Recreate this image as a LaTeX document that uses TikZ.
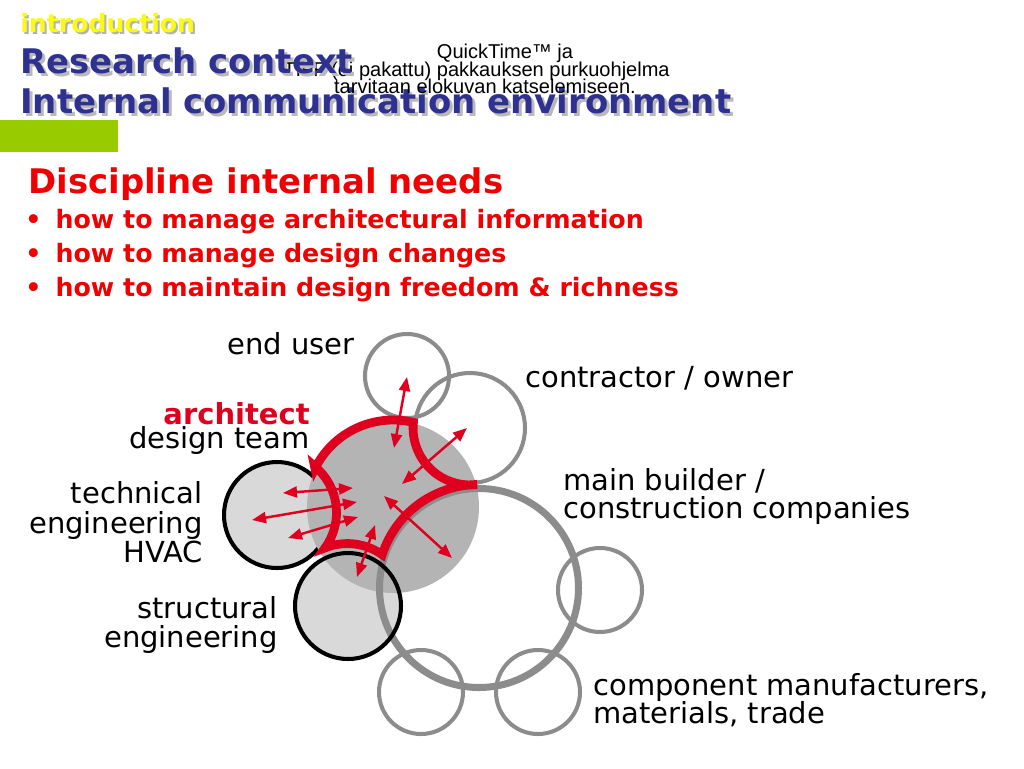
\documentclass[tikz,border=0pt]{standalone}
\usepackage{fontspec}
\setmainfont{DejaVu Sans}
\newfontfamily\qtfont{Liberation Sans}
\usetikzlibrary{arrows.meta}
\definecolor{titleblue}{RGB}{46,49,146}
\definecolor{introyellow}{RGB}{250,250,20}
\definecolor{bargreen}{RGB}{153,204,0}
\definecolor{needred}{RGB}{240,0,0}
\definecolor{archred}{RGB}{222,0,30}
\definecolor{ringgray}{RGB}{140,140,140}
\definecolor{archgray}{RGB}{180,180,180}
\definecolor{discgray}{RGB}{217,217,217}

\begin{document}
\begin{tikzpicture}[
        x=0.02cm, y=0.02cm,
        lbl/.style={font=\fontsize{16.5}{18}\selectfont, inner sep=0pt},
        head/.style={font=\bfseries\fontsize{19.3}{20}\selectfont, inner sep=0pt, anchor=base west},
        intro/.style={font=\bfseries\fontsize{14.3}{15}\selectfont, inner sep=0pt, anchor=base west},
        need/.style={font=\bfseries\fontsize{14.4}{15}\selectfont, inner sep=0pt, anchor=base west, text=needred},
        qt/.style={font=\qtfont\fontsize{11.4}{12}\selectfont, inner sep=0pt},
        ring/.style={draw=ringgray, line width=2.3pt},
        bigring/.style={draw=ringgray, line width=4pt},
        disc/.style={fill=discgray},
        rim/.style={draw=black, line width=2.3pt},
        redline/.style={draw=archred, line width=5pt},
        link/.style={archred, line width=1.4pt,
            {Triangle[length=0.28cm,width=0.22cm]}-{Triangle[length=0.28cm,width=0.22cm]}}
    ]
    \useasboundingbox (0,0) rectangle (1024,-768);
    \fill[white] (0,0) rectangle (1024,-768);

    \coordinate (E) at (407,-376);
    \coordinate (C) at (470,-428);
    \coordinate (M) at (479,-588);
    \coordinate (R) at (600,-590);
    \coordinate (BL) at (421,-692);
    \coordinate (BR) at (538,-692);
    \coordinate (T) at (277,-515);
    \coordinate (S) at (348,-606);
    \coordinate (G) at (393,-507);

    % header
    \node[qt, anchor=base east] (qt2) at (670,-76) {TIFF (ei pakattu) pakkauksen purkuohjelma};
    \node[intro, text=gray!60] (intro-s) at (22,-34) {introduction};
    \node[intro, text=introyellow] (intro) at (20,-32) {introduction};
    \node[head, text=gray!55] (research-s) at (23,-76) {Research context};
    \node[head, text=titleblue] (research) at (20,-73) {Research context};
    \node[head, text=gray!55] (internal-s) at (23,-116) {Internal communication environment};
    \node[head, text=titleblue] (internal) at (20,-113) {Internal communication environment};
    \node[qt, anchor=base] (qt1) at (505,-58) {QuickTime™ ja};
    \node[qt, anchor=base] (qt3) at (485,-93) {tarvitaan elokuvan katselemiseen.};
    \fill[bargreen] (0,-120) rectangle (118,-152);

    \node[head, text=needred] (needs) at (28,-193) {Discipline internal needs};
    \node[need] (need1) at (25,-228) {•\hspace{3pt} how to manage architectural information};
    \node[need] (need2) at (25,-262) {•\hspace{3pt} how to manage design changes};
    \node[need] (need3) at (25,-296) {•\hspace{3pt} how to maintain design freedom \& richness};

    % circles
    \fill[disc] (S) circle (53);
    \draw[disc, rim] (T) circle (53);
    \draw[ring] (E) circle (42);
    \draw[ring] (C) circle (55);
    \fill[archgray] (G) circle (86);
    \draw[bigring] (M) circle (99.5);
    \draw[ring] (R) circle (42);
    \draw[ring] (BL) circle (42);
    \draw[ring] (BR) circle (42);
    \draw[rim] (S) circle (53);

    \draw[redline] (315,-468.6)
        arc[start angle=153.8, end angle=76.5, radius=87]
        arc[start angle=174.4, end angle=277.1, radius=57]
        arc[start angle=90.7, end angle=162.2, radius=101]
        arc[start angle=54.6, end angle=112, radius=60]
        arc[start angle=-36.1, end angle=50.7, radius=60] -- cycle;

    \coordinate (u1) at (407,-377);
    \coordinate (u2) at (394,-448);
    \coordinate (o1) at (467,-428);
    \coordinate (o2) at (402,-484);
    \coordinate (b1) at (384,-496);
    \coordinate (b2) at (452,-558);
    \coordinate (s1) at (375,-525);
    \coordinate (s2) at (357,-577);
    \coordinate (t1) at (283,-493);
    \coordinate (t2) at (353,-488);
    \coordinate (t3) at (252,-520);
    \coordinate (t4) at (357,-502);
    \coordinate (t5) at (288,-538);
    \coordinate (t6) at (358,-517);
    \draw[link] (u1) -- (u2);
    \draw[link] (o1) -- (o2);
    \draw[link] (b1) -- (b2);
    \draw[link] (s1) -- (s2);
    \draw[link] (t1) -- (t2);
    \draw[link] (t3) -- (t4);
    \draw[link] (t5) -- (t6);

    % labels
    \node[lbl, anchor=base west] (enduser) at (227,-354) {end user};
    \node[lbl, anchor=base west] (owner) at (525,-387) {contractor / owner};
    \node[lbl, anchor=base east, font=\bfseries\fontsize{16.5}{18}\selectfont, text=archred] (architect) at (310,-424) {architect};
    \node[lbl, anchor=base east] (team) at (310,-448) {design team};
    \node[lbl, anchor=base east] (tech1) at (203,-503) {technical};
    \node[lbl, anchor=base east] (tech2) at (203,-533) {engineering};
    \node[lbl, anchor=base east] (tech3) at (203,-562) {HVAC};
    \node[lbl, anchor=base east] (struct1) at (278,-618) {structural};
    \node[lbl, anchor=base east] (struct2) at (278,-647) {engineering};
    \node[lbl, anchor=base west] (builder1) at (563,-490) {main builder /};
    \node[lbl, anchor=base west] (builder2) at (563,-518) {construction companies};
    \node[lbl, anchor=base west] (comp1) at (593,-695) {component manufacturers,};
    \node[lbl, anchor=base west] (comp2) at (593,-723) {materials, trade};
\end{tikzpicture}
\end{document}
